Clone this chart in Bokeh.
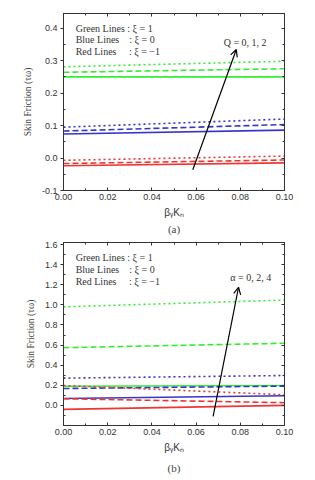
from bokeh.plotting import figure
from bokeh.layouts import column
from bokeh.models import (ColumnDataSource, FixedTicker, PrintfTickFormatter, LinearAxis,
                          Range1d, Arrow, OpenHead, CustomJSTickFormatter)
from bokeh.core.properties import value
from bokeh.embed import file_html
from bokeh.resources import INLINE

# ---------------- data ----------------
x = [0.0, 0.1]

# panel (a): Q = 0, 1, 2  (solid, dashed, dotted)
a_green = [[0.250, 0.250], [0.264, 0.275], [0.281, 0.298]]
a_blue = [[0.074, 0.086], [0.083, 0.103], [0.095, 0.120]]
a_red = [[-0.024, -0.015], [-0.017, -0.006], [-0.007, 0.006]]

# panel (b): alpha = 0, 2, 4  (solid, dashed, dotted)
b_green = [[0.190, 0.198], [0.574, 0.618], [0.980, 1.047]]
b_blue = [[0.069, 0.096], [0.168, 0.192], [0.271, 0.297]]
b_red = [[-0.040, 0.000], [0.066, 0.027], [0.198, 0.106]]

NB = "\u00a0"
legend_text = ["Green Lines : \u03be = 1",
               "Blue Lines" + NB * 4 + ": \u03be = 0",
               "Red Lines" + NB * 5 + ": \u03be = \u22121"]
a_legend_y = [0.400, 0.365, 0.329]
b_legend_y = [1.475, 1.350, 1.235]

a_arrow = [0.0585, -0.036, 0.0782, 0.334]
b_arrow = [0.0677, -0.109, 0.0792, 1.175]
a_note = "Q = 0, 1, 2"
b_note = "\u03b1 = 0, 2, 4"

x_ticks = [0.0, 0.02, 0.04, 0.06, 0.08, 0.10]
x_minor = [0.01, 0.03, 0.05, 0.07, 0.09]
a_yticks = [-0.1, 0.0, 0.1, 0.2, 0.3, 0.4]
a_yminor = [-0.05, 0.05, 0.15, 0.25, 0.35]
b_yticks = [0.0, 0.2, 0.4, 0.6, 0.8, 1.0, 1.2, 1.4, 1.6]
b_yminor = [-0.1, 0.1, 0.3, 0.5, 0.7, 0.9, 1.1, 1.3, 1.5]

GREEN = "#33ee33"
BLUE = "#3535cc"
RED = "#ee3535"
DASHES = ["solid", "6 3", "2 3"]

SANS = "Liberation Sans"
SERIF = "Liberation Serif"


def style_axis(ax, ticks, minor, fmt, labels=True, out=False):
    ax.ticker = FixedTicker(ticks=ticks, minor_ticks=minor)
    ax.axis_line_color = "#333333"
    ax.major_tick_line_color = "#333333"
    ax.minor_tick_line_color = "#333333"
    if out:
        ax.major_tick_out = 3
        ax.major_tick_in = 0
    else:
        ax.major_tick_out = 0
        ax.major_tick_in = 3
    ax.minor_tick_out = 0
    ax.minor_tick_in = 2
    ax.major_label_text_font = SANS
    ax.major_label_text_font_size = "9px"
    ax.major_label_text_color = "#333333"
    ax.major_label_standoff = 3
    if labels:
        ax.formatter = PrintfTickFormatter(format=fmt)
    else:
        ax.formatter = CustomJSTickFormatter(code="return ''")
        ax.major_label_standoff = 0


def make_panel(yr, green, blue, red, legend_y, arrow, note, note_xy, yticks, yminor, caption,
               borders, cap_standoff):
    left, right, top, bottom = borders
    p = figure(width=315, height=240, output_backend="svg", toolbar_location=None,
               x_range=Range1d(0.0, 0.1), y_range=Range1d(*yr),
               min_border_left=left, min_border_right=right, min_border_top=top,
               min_border_bottom=bottom, title=caption, title_location="below")
    p.title.align = "center"
    p.title.text_font = SERIF
    p.title.text_font_size = "11px"
    p.title.text_font_style = "normal"
    p.title.standoff = cap_standoff
    p.grid.visible = False
    p.outline_line_color = "#333333"
    p.background_fill_color = "white"

    style_axis(p.xaxis[0], x_ticks, x_minor, "%.2f")
    style_axis(p.yaxis[0], yticks, yminor, "%.1f", out=True)
    p.xaxis.axis_label = "\u03b2\u1d67K\u2099"
    p.xaxis.axis_label_text_font = SANS
    p.xaxis.axis_label_text_font_size = "10px"
    p.xaxis.axis_label_text_font_style = "normal"
    p.xaxis.axis_label_text_color = "#333333"
    p.xaxis.axis_label_standoff = 4
    p.yaxis.axis_label = "Skin Friction (\u03c4\u03c9)"
    p.yaxis.axis_label_text_font = SERIF
    p.yaxis.axis_label_text_font_size = "9.5px"
    p.yaxis.axis_label_text_font_style = "normal"
    p.yaxis.axis_label_text_color = "#444444"
    p.yaxis.axis_label_standoff = 6

    top_ax = LinearAxis()
    style_axis(top_ax, x_ticks, x_minor, "%.2f", labels=False)
    p.add_layout(top_ax, "above")
    right_ax = LinearAxis()
    style_axis(right_ax, yticks, yminor, "%.1f", labels=False)
    p.add_layout(right_ax, "right")

    for series, color in ((green, GREEN), (blue, BLUE), (red, RED)):
        for ys, dash in zip(series, DASHES):
            p.line(x, ys, line_color=color, line_width=1.6, line_dash=dash)

    src = ColumnDataSource(dict(x=[0.0055] * 3, y=legend_y, t=legend_text))
    p.text(x="x", y="y", text="t", source=src, text_font=value(SERIF),
           text_font_size="10px", text_baseline="middle", text_color="#333333")

    p.add_layout(Arrow(end=OpenHead(size=7, line_width=1.2, line_color="black"),
                       x_start=arrow[0], y_start=arrow[1], x_end=arrow[2], y_end=arrow[3],
                       line_width=1.2, line_color="black"))
    p.text(x=[note_xy[0]], y=[note_xy[1]], text=[note], text_font=value(SERIF),
           text_font_size="10px", text_baseline="middle", text_color="#333333")
    return p


pa = make_panel((-0.1, 0.445), a_green, a_blue, a_red, a_legend_y, a_arrow, a_note,
                (0.0725, 0.357), a_yticks, a_yminor, "(a)", (63, 31, 13, 50), 0)
pb = make_panel((-0.2, 1.62), b_green, b_blue, b_red, b_legend_y, b_arrow, b_note,
                (0.0755, 1.267), b_yticks, b_yminor, "(b)", (60, 31, 2, 55), 9)

layout = column(pa, pb, spacing=0)
open("out.html", "w").write(file_html(layout, INLINE))
